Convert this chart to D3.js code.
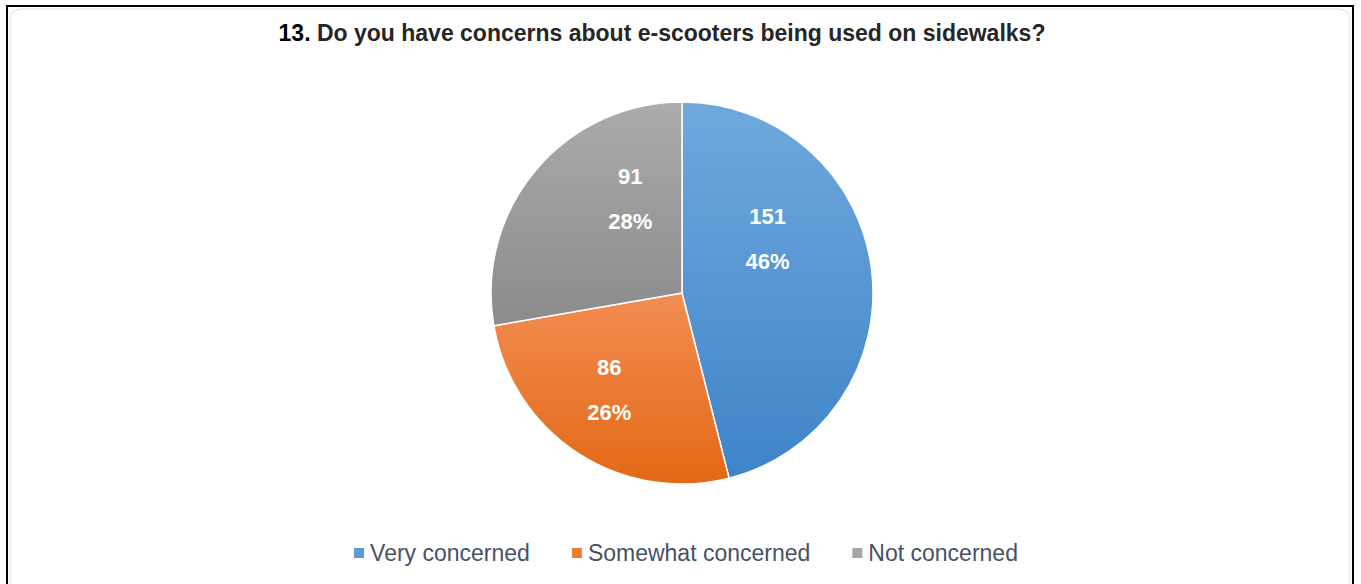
<!DOCTYPE html>
<html>
<head>
<meta charset="utf-8">
<script src="https://cdn.jsdelivr.net/npm/d3@7"></script>
<style>
  body { margin: 0; background: #fff; }
  svg { display: block; font-family: "Liberation Sans", Arial, sans-serif; }
</style>
</head>
<body>
<div id="chart"></div>
<script>
// chart data
var categories = ["Very concerned", "Somewhat concerned", "Not concerned"];
var counts = [151, 86, 91];
var percents = ["46%", "26%", "28%"];
var titleNum = "13.";
var titleText = " Do you have concerns about e-scooters being used on sidewalks?";

var W = 1361, H = 584;
var cx = 682, cy = 293, radius = 191;
// gradient top/bottom colours for each slice
var topColors = ["#70a8de", "#f28d52", "#ababab"];
var bottomColors = ["#3e84c7", "#e36815", "#8b8b8b"];
var legendColors = ["#5b9bd5", "#ed7d31", "#a5a5a5"];
// label angle shifts (degrees) to mimic excel best fit placement
var labelShift = [-25, 4, 21];
var labelRadius = [101, 121, 107];

const svg = d3.select("#chart").append("svg")
  .attr("width", W)
  .attr("height", H);

// frame
svg.append("rect")
  .attr("x", 7).attr("y", 6)
  .attr("width", 1346).attr("height", 600)
  .attr("fill", "#fff")
  .attr("stroke", "#000")
  .attr("stroke-width", 2);
svg.append("rect")
  .attr("x", 10).attr("y", 9)
  .attr("width", 1340).attr("height", 590)
  .attr("rx", 10)
  .attr("fill", "none")
  .attr("stroke", "#dcdcdc")
  .attr("stroke-width", 1);

var title = svg.append("text")
  .attr("x", 662).attr("y", 41)
  .attr("text-anchor", "middle")
  .attr("font-size", 23)
  .attr("font-weight", "bold");
title.append("tspan").attr("fill", "#000").text(titleNum);
title.append("tspan").attr("fill", "#262626").text(titleText);

var defs = svg.append("defs");
categories.forEach(function(c, i) {
  var g = defs.append("linearGradient")
    .attr("id", "grad" + i)
    .attr("x1", 0).attr("y1", 0).attr("x2", 0).attr("y2", 1);
  g.append("stop").attr("offset", "0%").attr("stop-color", topColors[i]);
  g.append("stop").attr("offset", "100%").attr("stop-color", bottomColors[i]);
});

var data = categories.map(function(c, i) {
  return {name: c, value: counts[i], pct: percents[i], idx: i};
});

var pie = d3.pie().sort(null).value(function(d) { return d.value; });
var arcs = pie(data);
var arc = d3.arc().innerRadius(0).outerRadius(radius);

var g = svg.append("g").attr("transform", "translate(" + cx + "," + cy + ")");

g.selectAll("path.slice").data(arcs).enter().append("path")
  .attr("class", "slice")
  .attr("d", arc)
  .attr("fill", function(d) { return "url(#grad" + d.data.idx + ")"; })
  .attr("stroke", "#fff")
  .attr("stroke-width", 1.5);

var labels = g.selectAll("g.lbl").data(arcs).enter().append("g")
  .attr("class", "lbl")
  .attr("transform", function(d) {
    var a = (d.startAngle + d.endAngle) / 2 + labelShift[d.data.idx] * Math.PI / 180;
    var r = labelRadius[d.data.idx];
    return "translate(" + (r * Math.sin(a)) + "," + (-r * Math.cos(a)) + ")";
  });
labels.append("text")
  .attr("text-anchor", "middle")
  .attr("y", -15)
  .attr("font-size", 22)
  .attr("font-weight", "bold")
  .attr("fill", "#fff")
  .text(function(d) { return d.data.value; });
labels.append("text")
  .attr("text-anchor", "middle")
  .attr("y", 30)
  .attr("font-size", 22)
  .attr("font-weight", "bold")
  .attr("fill", "#fff")
  .text(function(d) { return d.data.pct; });

// legend
var legend = svg.append("g");
var items = legend.selectAll("g").data(data).enter().append("g");
items.append("rect")
  .attr("y", -13)
  .attr("width", 10).attr("height", 10)
  .attr("fill", function(d) { return legendColors[d.idx]; });
items.append("text")
  .attr("x", 16)
  .attr("font-size", 23)
  .attr("fill", "#465266")
  .text(function(d) { return d.name; });
var xPos = 0;
items.each(function() {
  var w = this.getBBox().width;
  d3.select(this).attr("transform", "translate(" + xPos + ",0)");
  xPos += w + 42;
});
var total = xPos - 42;
legend.attr("transform", "translate(" + (686 - total / 2) + ",561)");
</script>
</body>
</html>
